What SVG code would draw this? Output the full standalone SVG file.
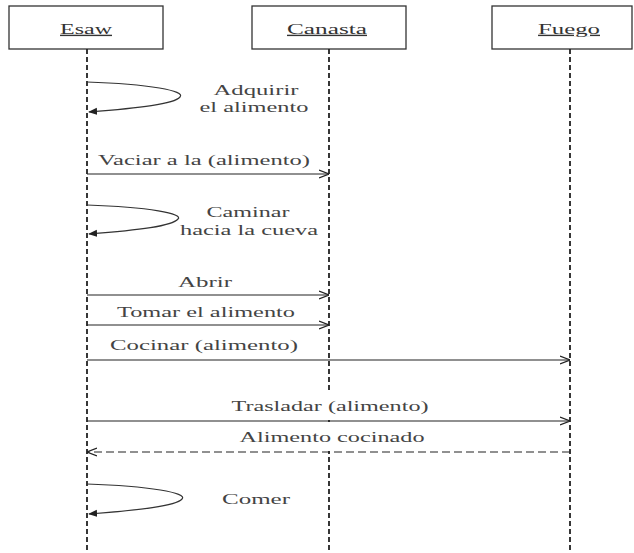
<svg xmlns="http://www.w3.org/2000/svg" width="634" height="553" viewBox="0 0 634 553">
  <style>
    .box { fill: #fff; stroke: #333; stroke-width: 1.3; }
    .lifeline { stroke: #222; stroke-width: 1.8; stroke-dasharray: 5 3; fill: none; }
    .msg { stroke: #222; stroke-width: 1.2; fill: none; marker-end: url(#open); }
    .ret { stroke: #222; stroke-width: 1.2; fill: none; stroke-dasharray: 8 4; marker-end: url(#open); }
    .self { stroke: #333; stroke-width: 1.2; fill: none; marker-end: url(#solid); }
    .bg { fill: #fff; }
    /* labels are set in a wide face: glyphs stretched 1.75x horizontally */
    text { font-family: "Liberation Serif", "Times New Roman", serif; font-size: 14px; fill: #444; text-anchor: middle; }
    .name { fill: #333; text-decoration: underline; }
  </style>
  <defs>
    <marker id="open" viewBox="0 0 10 10" refX="10" refY="5" markerWidth="10" markerHeight="10" markerUnits="userSpaceOnUse" orient="auto">
      <path d="M0,1 L10,5 L0,9" fill="none" stroke="#222" stroke-width="1.2"/>
    </marker>
    <marker id="solid" viewBox="0 0 10 10" refX="9" refY="5" markerWidth="9" markerHeight="9" markerUnits="userSpaceOnUse" orient="auto">
      <path d="M0,1 L10,5 L0,9 Z" fill="#222"/>
    </marker>
  </defs>

  <!-- participants -->
  <g id="esaw">
    <rect class="box" x="9" y="6" width="154" height="43"/>
    <line class="lifeline" x1="87" y1="49" x2="87" y2="553"/>
    <text class="name" transform="translate(86,34) scale(1.75,1)" textLength="29.7" lengthAdjust="spacingAndGlyphs">Esaw</text>
  </g>
  <g id="canasta">
    <rect class="box" x="252" y="6" width="154" height="43"/>
    <line class="lifeline" x1="329" y1="49" x2="329" y2="553"/>
    <text class="name" transform="translate(327,34) scale(1.75,1)" textLength="45.7" lengthAdjust="spacingAndGlyphs">Canasta</text>
  </g>
  <g id="fuego">
    <rect class="box" x="492" y="6" width="140" height="43"/>
    <line class="lifeline" x1="570" y1="49" x2="570" y2="553"/>
    <text class="name" transform="translate(569,34) scale(1.75,1)" textLength="35.4" lengthAdjust="spacingAndGlyphs">Fuego</text>
  </g>

  <!-- messages -->
  <g id="connectors">
    <path class="self" d="M87,82 C150,84 186,91 180,97 C174,104 140,108 89,112"/>
    <line class="msg" x1="87" y1="174" x2="329" y2="174"/>
    <path class="self" d="M87,205 C150,207 184,214 178,219 C172,226 140,230 89,234"/>
    <line class="msg" x1="87" y1="295" x2="329" y2="295"/>
    <line class="msg" x1="87" y1="325" x2="329" y2="325"/>
    <line class="msg" x1="87" y1="360" x2="570" y2="360"/>
    <rect class="bg" x="228" y="393" width="204" height="27"/>
    <line class="msg" x1="87" y1="421" x2="570" y2="421"/>
    <rect class="bg" x="236" y="423" width="192" height="28"/>
    <line class="ret" x1="570" y1="452" x2="87" y2="452"/>
    <path class="self" d="M87,484 C150,486 188,493 182,499 C176,506 140,510 89,514"/>
  </g>

  <!-- labels -->
  <g id="labels">
    <text transform="translate(256,95) scale(1.75,1)" textLength="48.6" lengthAdjust="spacingAndGlyphs">Adquirir</text>
    <text transform="translate(254,112) scale(1.75,1)" textLength="62.3" lengthAdjust="spacingAndGlyphs">el alimento</text>
    <text transform="translate(204,165) scale(1.75,1)" textLength="121.1" lengthAdjust="spacingAndGlyphs">Vaciar a la (alimento)</text>
    <text transform="translate(248,217) scale(1.75,1)" textLength="47.4" lengthAdjust="spacingAndGlyphs">Caminar</text>
    <text transform="translate(249,235) scale(1.75,1)" textLength="78.9" lengthAdjust="spacingAndGlyphs">hacia la cueva</text>
    <text transform="translate(205,287) scale(1.75,1)" textLength="30.9" lengthAdjust="spacingAndGlyphs">Abrir</text>
    <text transform="translate(206,317) scale(1.75,1)" textLength="101.7" lengthAdjust="spacingAndGlyphs">Tomar el alimento</text>
    <text transform="translate(204,350) scale(1.75,1)" textLength="107.4" lengthAdjust="spacingAndGlyphs">Cocinar (alimento)</text>
    <text transform="translate(330,411) scale(1.75,1)" textLength="112.6" lengthAdjust="spacingAndGlyphs">Trasladar (alimento)</text>
    <text transform="translate(332,442) scale(1.75,1)" textLength="105.7" lengthAdjust="spacingAndGlyphs">Alimento cocinado</text>
    <text transform="translate(256,504) scale(1.75,1)" textLength="38.9" lengthAdjust="spacingAndGlyphs">Comer</text>
  </g>
</svg>
